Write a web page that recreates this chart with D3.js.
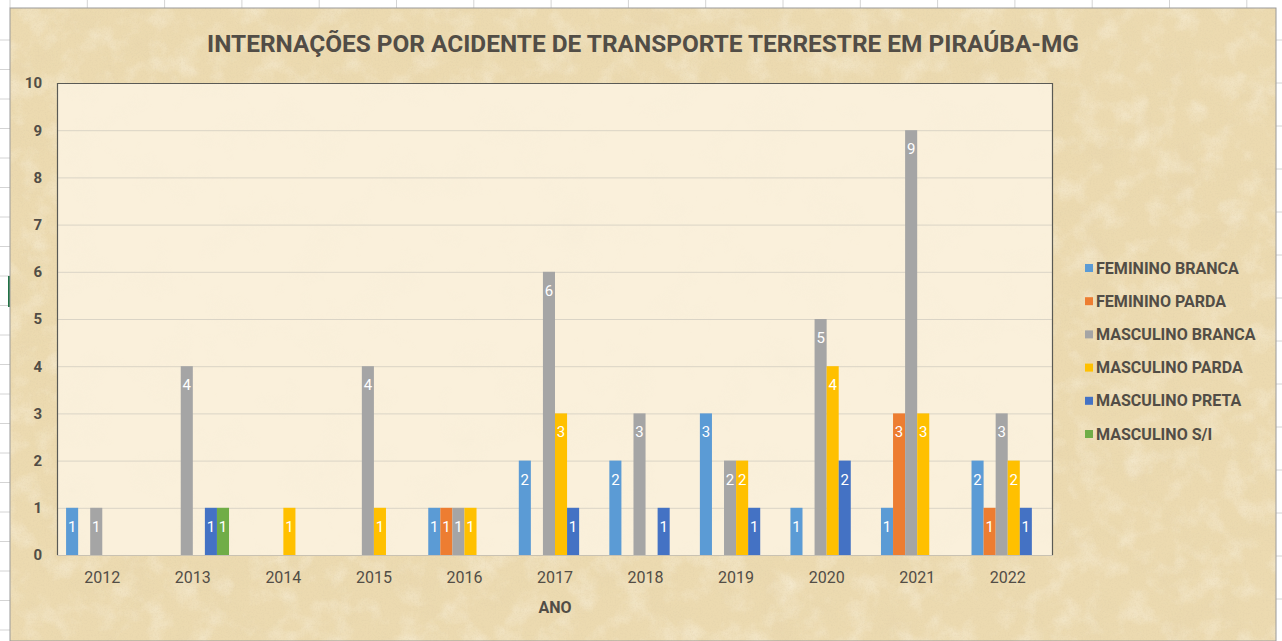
<!DOCTYPE html>
<html>
<head>
<meta charset="utf-8">
<script src="https://cdn.jsdelivr.net/npm/d3@7"></script>
<style>
  html, body { margin: 0; padding: 0; background: #fff; }
  svg { display: block; }
</style>
</head>
<body>
<svg id="chart"></svg>
<script>
// data
const years = ['2012', '2013', '2014', '2015', '2016', '2017', '2018', '2019', '2020', '2021', '2022'];
const seriesNames = ['FEMININO BRANCA', 'FEMININO PARDA', 'MASCULINO BRANCA', 'MASCULINO PARDA', 'MASCULINO PRETA', 'MASCULINO S/I'];
const femininoBranca  = [1, 0, 0, 0, 1, 2, 2, 3, 1, 1, 2];
const femininoParda   = [0, 0, 0, 0, 1, 0, 0, 0, 0, 3, 1];
const masculinoBranca = [1, 4, 0, 4, 1, 6, 3, 2, 5, 9, 3];
const masculinoParda  = [0, 0, 1, 1, 1, 3, 0, 2, 4, 3, 2];
const masculinoPreta  = [0, 1, 0, 0, 0, 1, 1, 1, 2, 0, 1];
const masculinoSI     = [0, 1, 0, 0, 0, 0, 0, 0, 0, 0, 0];
const yTicks = [0, 1, 2, 3, 4, 5, 6, 7, 8, 9, 10];

const seriesValues = [femininoBranca, femininoParda, masculinoBranca, masculinoParda, masculinoPreta, masculinoSI];
const colors = ['#5b9bd5', '#ed7d31', '#a5a5a5', '#ffc000', '#4472c4', '#70ad47'];
const textColor = '#524d46';
const font = 'Roboto, "Open Sans", sans-serif';

const W = 1282, H = 641;
const svg = d3.select('#chart').attr('width', W).attr('height', H);

// paper texture filters
const defs = svg.append('defs');
function noise(id, freq, oct, seed, matrix) {
    const f = defs.append('filter').attr('id', id).attr('x', 0).attr('y', 0).attr('width', '100%').attr('height', '100%');
    f.append('feTurbulence').attr('type', 'fractalNoise').attr('baseFrequency', freq).attr('numOctaves', oct).attr('seed', seed);
    f.append('feColorMatrix').attr('type', 'matrix').attr('values', matrix);
}
noise('paperdark', 0.025, 5, 7, '0 0 0 0 0.80  0 0 0 0 0.66  0 0 0 0 0.42  1.2 0 0 0 -0.55');
noise('paperlight', 0.04, 5, 2, '0 0 0 0 0.98  0 0 0 0 0.94  0 0 0 0 0.84  0 1.1 0 0 -0.5');
noise('grain', 0.6, 2, 5, '0 0 0 0 0.70  0 0 0 0 0.58  0 0 0 0 0.38  0 0 1.0 0 -0.45');
noise('plotpaper', 0.02, 4, 11, '0 0 0 0 0.90  0 0 0 0 0.82  0 0 0 0 0.66  1.0 0 0 0 -0.5');

// Excel sheet frame
svg.append('rect').attr('width', W).attr('height', H).attr('fill', '#fff');
const frame = svg.append('g').attr('stroke', '#d4d4d4').attr('stroke-width', 1);
d3.range(10, 1282, 77.3).forEach(x => frame.append('line').attr('x1', x).attr('x2', x).attr('y1', 0).attr('y2', 8));
d3.range(40, 641, 29.5).forEach(y => frame.append('line').attr('x1', 0).attr('x2', 10).attr('y1', y).attr('y2', y));
d3.range(40, 641, 43).forEach(y => frame.append('line').attr('x1', 1276).attr('x2', 1282).attr('y1', y).attr('y2', y));
svg.append('rect').attr('x', 8).attr('y', 276).attr('width', 3).attr('height', 31).attr('fill', '#217346');

// chart area
const ca = {x: 10, y: 8, w: 1266, h: 633};
const area = () => svg.append('rect').attr('x', ca.x).attr('y', ca.y).attr('width', ca.w).attr('height', ca.h);
area().attr('fill', '#ecdab0');
area().attr('filter', 'url(#paperdark)').attr('opacity', 0.85);
area().attr('filter', 'url(#paperlight)').attr('opacity', 0.8);
area().attr('filter', 'url(#grain)').attr('opacity', 0.6);
area().attr('fill', 'none').attr('stroke', '#9a9a9a').attr('stroke-width', 1);

const margin = {top: 83, left: 57, right: 1053, bottom: 555};
const plotW = margin.right - margin.left, plotH = margin.bottom - margin.top;

const x0 = d3.scaleBand().domain(years).range([margin.left, margin.right]).paddingInner(0).paddingOuter(0);
const x1 = d3.scaleBand().domain(d3.range(seriesNames.length))
    .range([x0.bandwidth() / 2 - 36.2, x0.bandwidth() / 2 + 36.2]).padding(0);
const y = d3.scaleLinear().domain([0, 10]).range([margin.bottom, margin.top]);

// plot area
svg.append('rect').attr('x', margin.left).attr('y', margin.top).attr('width', plotW).attr('height', plotH).attr('fill', '#faf0db');
svg.append('rect').attr('x', margin.left).attr('y', margin.top).attr('width', plotW).attr('height', plotH)
    .attr('filter', 'url(#plotpaper)').attr('opacity', 0.5);

// gridlines
svg.append('g')
    .attr('transform', `translate(${margin.left},0)`)
    .call(d3.axisLeft(y).tickValues(yTicks.slice(1, -1)).tickSize(-plotW).tickFormat(''))
    .call(g => g.select('.domain').remove())
    .call(g => g.selectAll('line').attr('stroke', '#dad4c6').attr('stroke-width', 1));

// bars
const groups = svg.append('g').selectAll('g')
    .data(years)
    .join('g')
    .attr('transform', d => `translate(${x0(d)},0)`);

const cells = (d, i) => seriesValues.map((vals, s) => ({s, v: vals[i]})).filter(e => e.v > 0);

groups.selectAll('rect')
    .data(cells)
    .join('rect')
    .attr('x', e => x1(e.s))
    .attr('y', e => y(e.v))
    .attr('width', x1.bandwidth())
    .attr('height', e => y(0) - y(e.v))
    .attr('fill', e => colors[e.s]);

groups.selectAll('text')
    .data(cells)
    .join('text')
    .attr('x', e => x1(e.s) + x1.bandwidth() / 2)
    .attr('y', e => y(e.v) + 24)
    .attr('text-anchor', 'middle')
    .attr('fill', '#ffffff')
    .style('font-family', font)
    .style('font-size', '15px')
    .text(e => e.v);

// plot border: top, left, right dark; bottom axis light
const border = svg.append('g').attr('stroke', '#5a5a55').attr('stroke-width', 1.2);
border.append('line').attr('x1', margin.left).attr('x2', margin.right).attr('y1', margin.top + 0.5).attr('y2', margin.top + 0.5);
border.append('line').attr('x1', margin.left + 0.5).attr('x2', margin.left + 0.5).attr('y1', margin.top).attr('y2', margin.bottom);
border.append('line').attr('x1', margin.right - 0.5).attr('x2', margin.right - 0.5).attr('y1', margin.top).attr('y2', margin.bottom);
svg.append('line').attr('x1', margin.left).attr('x2', margin.right).attr('y1', margin.bottom + 0.5).attr('y2', margin.bottom + 0.5)
    .attr('stroke', '#c9c2b2').attr('stroke-width', 1);

// y axis
svg.append('g')
    .attr('transform', `translate(42,0)`)
    .call(d3.axisLeft(y).tickValues(yTicks).tickSize(0).tickPadding(0))
    .call(g => g.select('.domain').remove())
    .call(g => g.selectAll('text')
        .attr('fill', textColor)
        .style('font-family', font)
        .style('font-size', '15px')
        .style('font-weight', 'bold'));

// x axis
svg.append('g')
    .attr('transform', `translate(0,${margin.bottom})`)
    .call(d3.axisBottom(x0).tickSize(0).tickPadding(17))
    .call(g => g.select('.domain').remove())
    .call(g => g.selectAll('text')
        .attr('fill', textColor)
        .style('font-family', font)
        .style('font-size', '16px'));

// axis title
svg.append('text')
    .attr('x', 555).attr('y', 613)
    .attr('text-anchor', 'middle')
    .attr('fill', textColor)
    .style('font-family', font)
    .style('font-size', '16px')
    .style('font-weight', 'bold')
    .text('ANO');

// title
const title = svg.append('text')
    .attr('x', 643).attr('y', 52)
    .attr('text-anchor', 'middle')
    .attr('fill', textColor)
    .style('font-family', font)
    .style('font-size', '21px')
    .style('font-weight', 'bold')
    .text('INTERNAÇÕES POR ACIDENTE DE TRANSPORTE TERRESTRE EM PIRAÚBA-MG');
const tw = title.node().getComputedTextLength();
title.style('font-size', (21 * 872 / tw).toFixed(2) + 'px');

// legend
const legend = svg.append('g').attr('transform', 'translate(1085,268)');
const items = legend.selectAll('g').data(seriesNames).join('g')
    .attr('transform', (d, i) => `translate(0,${i * 33.2})`);
items.append('rect').attr('x', 0).attr('y', -4).attr('width', 8).attr('height', 8)
    .attr('fill', (d, i) => colors[i]);
const ltext = items.append('text')
    .attr('x', 11).attr('y', 5.5)
    .attr('fill', textColor)
    .style('font-family', font)
    .style('font-size', '15px')
    .style('font-weight', 'bold')
    .text(d => d);
const lw = ltext.filter((d, i) => i === 0).node().getComputedTextLength();
ltext.style('font-size', (15 * 143 / lw).toFixed(2) + 'px');
</script>
</body>
</html>
